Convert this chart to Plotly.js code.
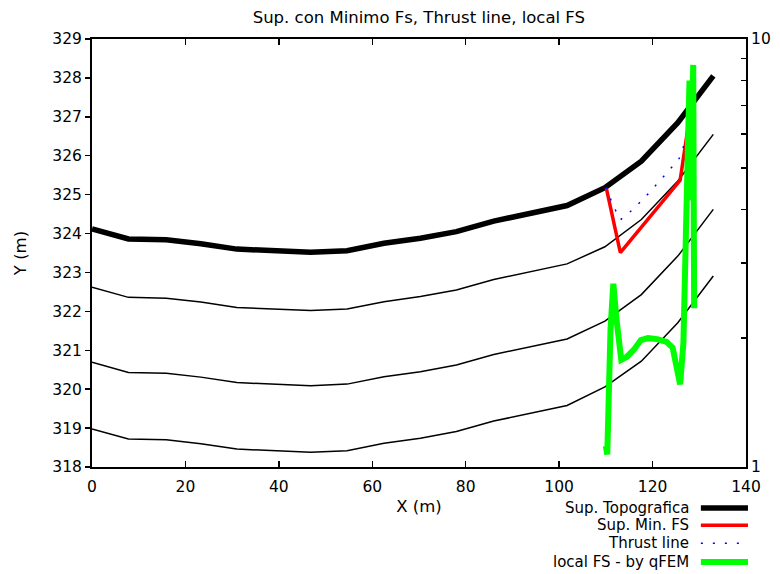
<!DOCTYPE html>
<html>
<head>
<meta charset="utf-8">
<script src="https://cdn.plot.ly/plotly-3.0.1.min.js"></script>
<style>html,body{margin:0;padding:0;background:#fff;}#chart{width:780px;height:574px;}</style>
</head>
<body>
<div id="chart"></div>
<script>
// Section x positions (m)
const xSec = [0, 7.8, 15.9, 23.3, 31.0, 39.0, 46.8, 54.6, 62.5, 70.3, 78.0, 86.0, 93.8, 101.7, 109.8, 117.6, 125.4, 133.0];
// Topographic surface and layer boundaries (m)
const topo   = [324.12, 323.86, 323.84, 323.74, 323.60, 323.55, 323.52, 323.56, 323.75, 323.88, 324.05, 324.32, 324.52, 324.72, 325.18, 325.86, 326.85, 328.05];
const layer1 = [322.62, 322.36, 322.34, 322.24, 322.10, 322.05, 322.02, 322.06, 322.25, 322.38, 322.55, 322.82, 323.02, 323.22, 323.66, 324.36, 325.35, 326.55];
const layer2 = [320.69, 320.43, 320.41, 320.31, 320.17, 320.12, 320.09, 320.13, 320.32, 320.45, 320.62, 320.89, 321.09, 321.29, 321.75, 322.43, 323.42, 324.62];
const layer3 = [318.98, 318.72, 318.70, 318.60, 318.46, 318.41, 318.38, 318.42, 318.61, 318.74, 318.91, 319.18, 319.38, 319.58, 320.06, 320.72, 321.71, 322.91];
// Minimum FS slip surface
const slipX = [110.1, 113.1, 125.9, 127.8];
const slipY = [325.17, 323.51, 325.37, 326.9];
// Thrust line
const thrustX = [110.1, 111.4, 113.1, 115.6, 118.2, 120.8, 123.3, 125.7, 127.0, 127.8];
const thrustY = [325.19, 324.76, 324.35, 324.60, 324.91, 325.25, 325.59, 325.93, 326.36, 326.85];
// Local FS (qFEM), right log axis
const fsX = [110.0, 110.3, 111.0, 111.6, 112.3, 113.3, 114.5, 116.0, 117.5, 119.0, 121.0, 123.0, 124.3, 125.0, 125.9, 126.6, 127.3, 127.9, 128.2, 128.7, 128.9];
const fsY = [1.12, 1.07, 2.1, 2.68, 2.2, 1.78, 1.81, 1.88, 1.98, 2.0, 1.99, 1.96, 1.9, 1.75, 1.56, 1.95, 3.6, 8.0, 4.2, 8.7, 2.35];

const legendNames = ['Sup. Topografica', 'Sup. Min. FS', 'Thrust line', 'local FS - by qFEM'];
const FONT = 'DejaVu Sans, sans-serif';

const traces = [
  {x: xSec, y: topo, mode: 'lines', line: {color: '#000', width: 5.5}, name: legendNames[0]},
  {x: xSec, y: layer1, mode: 'lines', line: {color: '#000', width: 1.5}, showlegend: false},
  {x: xSec, y: layer2, mode: 'lines', line: {color: '#000', width: 1.5}, showlegend: false},
  {x: xSec, y: layer3, mode: 'lines', line: {color: '#000', width: 1.5}, showlegend: false},
  {x: slipX, y: slipY, mode: 'lines', line: {color: '#ff0000', width: 3.5}, name: legendNames[1]},
  {x: thrustX, y: thrustY, mode: 'lines', line: {color: '#0000ff', width: 1.5, dash: '2px,10px'}, name: legendNames[2]},
  {x: fsX, y: fsY, yaxis: 'y2', mode: 'lines', line: {color: '#00ff00', width: 6}, name: legendNames[3]}
];

// Custom legend (text right, sample on right) as in the reference
const rowsY = [-0.096, -0.136, -0.178, -0.222];
const legStyles = [
  {color: '#000', width: 5.5},
  {color: '#ff0000', width: 3.5},
  {color: '#0000ff', width: 1.5, dash: '2px,10px'},
  {color: '#00ff00', width: 6}
];
const shapes = [];
const annotations = [];
legendNames.forEach((n, i) => {
  shapes.push({type: 'line', xref: 'paper', yref: 'paper', x0: 0.931, x1: 1.003, y0: rowsY[i], y1: rowsY[i], line: legStyles[i]});
  annotations.push({xref: 'paper', yref: 'paper', x: 0.915, y: rowsY[i], xanchor: 'right', yanchor: 'middle', text: n, showarrow: false, borderpad: 0, font: {family: FONT, size: 15, color: '#000'}});
});

const layout = {
  width: 780, height: 574,
  margin: {l: 92, r: 34, t: 39, b: 107, pad: 0},
  paper_bgcolor: '#fff', plot_bgcolor: '#fff',
  showlegend: false,
  title: {text: 'Sup. con Minimo Fs, Thrust line, local FS', x: 0.537, xanchor: 'center', y: 0.97, yanchor: 'middle', font: {family: FONT, size: 16.5, color: '#000'}},
  font: {family: FONT, size: 15, color: '#000'},
  xaxis: {
    range: [0, 140], dtick: 20, tick0: 0, showgrid: false, zeroline: false,
    showline: true, linecolor: '#000', linewidth: 2, mirror: 'ticks',
    ticks: 'inside', ticklen: 6, tickwidth: 1.5, tickcolor: '#000',
    ticklabelstandoff: 4,
    tickfont: {family: FONT, size: 15.5},
    title: {text: 'X (m)', font: {family: FONT, size: 16.5}, standoff: 6}
  },
  yaxis: {
    range: [318, 329], dtick: 1, tick0: 318, showgrid: false, zeroline: false,
    showline: true, linecolor: '#000', linewidth: 2, mirror: false,
    ticks: 'outside', ticklen: 5, tickwidth: 1.5, tickcolor: '#000',
    tickfont: {family: FONT, size: 15.5},
    title: {text: 'Y (m)', font: {family: FONT, size: 16.5}, standoff: 22}
  },
  yaxis2: {
    type: 'log', range: [0, 1], overlaying: 'y', side: 'right',
    tickvals: [1, 2, 3, 4, 5, 6, 7, 8, 9, 10],
    ticktext: ['1', '', '', '', '', '', '', '', '', '10'],
    showgrid: false, zeroline: false,
    showline: true, linecolor: '#000', linewidth: 2,
    ticks: 'inside', ticklen: 5, tickwidth: 1.5, tickcolor: '#000',
    tickfont: {family: FONT, size: 15.5}
  },
  shapes: shapes,
  annotations: annotations
};

Plotly.newPlot('chart', traces, layout, {staticPlot: true, displayModeBar: false});
</script>
</body>
</html>
